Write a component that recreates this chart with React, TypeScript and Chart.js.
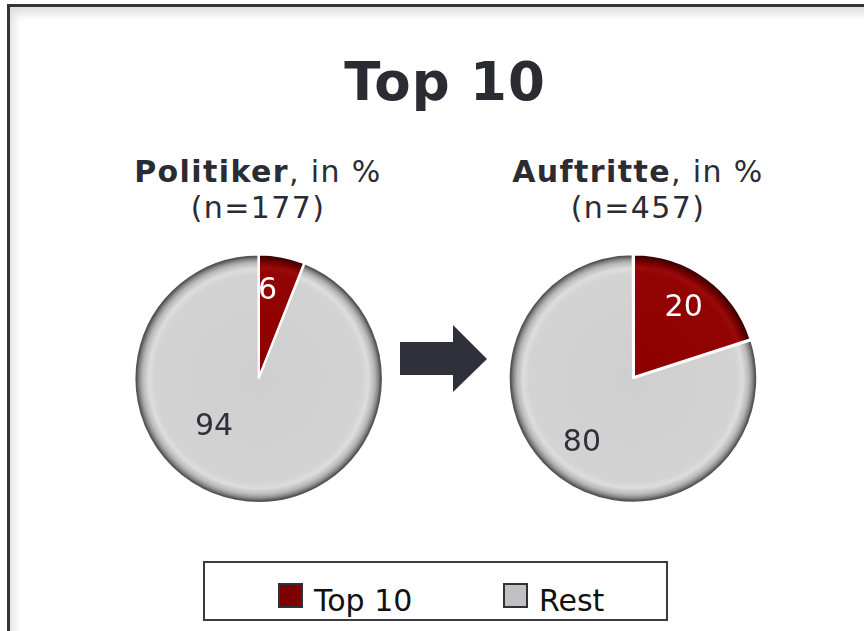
import React, { useEffect, useRef } from "react";
import { Chart, registerables } from "chart.js";
Chart.register(...registerables);

const categories = ["Top 10", "Rest"];
const politikerValues = [6, 94];
const auftritteValues = [20, 80];
const mainTitle = "Top 10";
const politikerHeading = ["Politiker", ", in %", "(n=177)"];
const auftritteHeading = ["Auftritte", ", in %", "(n=457)"];

const FONT = "'DejaVu Sans', Verdana, sans-serif";
const TEXT = "#2b2b33";

const redStops: [number, string][] = [
  [0, "#8e0000"], [0.85, "#920404"], [0.9, "#9a0a0a"], [0.95, "#700000"], [0.98, "#4a0000"], [1, "#300000"],
];
const greyStops: [number, string][] = [
  [0, "#cfcfcf"], [0.85, "#d3d3d3"], [0.9, "#dddddd"], [0.95, "#b8b8b8"], [0.98, "#888888"], [1, "#555555"],
];

function fill(c: any) {
  const stops = c.dataIndex === 0 ? redStops : greyStops;
  const chart = c.chart;
  const a = chart.chartArea;
  if (!a) return stops[0][1];
  const cx = (a.left + a.right) / 2;
  const cy = (a.top + a.bottom) / 2;
  const R = Math.min(a.right - a.left, a.bottom - a.top) / 2 - 5;
  const g = chart.ctx.createRadialGradient(cx, cy, 0, cx, cy, R);
  stops.forEach(([o, col]) => g.addColorStop(o, col));
  return g;
}

const labelPlugin = {
  id: "sliceLabels",
  afterDatasetsDraw(chart: any, _args: any, opts: any) {
    const meta = chart.getDatasetMeta(0);
    const ctx = chart.ctx;
    const ds = chart.data.datasets[0];
    meta.data.forEach((arc: any, i: number) => {
      const p = arc.getProps(["x", "y", "startAngle", "endAngle", "outerRadius"], true);
      const place = (opts.placement && opts.placement[i]) || { shift: 0, r: 0.7 };
      const mid = (p.startAngle + p.endAngle) / 2 + (place.shift * Math.PI) / 180;
      const r = p.outerRadius * place.r;
      const x = p.x + Math.cos(mid) * r;
      const y = p.y + Math.sin(mid) * r;
      ctx.save();
      ctx.font = `30px ${FONT}`;
      ctx.fillStyle = opts.colors[i];
      ctx.textAlign = "center";
      ctx.textBaseline = "middle";
      ctx.fillText(String(ds.data[i]), x, y);
      ctx.restore();
    });
  },
};

function Pie(props: { values: number[]; left: number; top: number; size: number; placement: any[] }) {
  const ref = useRef<HTMLCanvasElement>(null);
  useEffect(() => {
    const chart = new Chart(ref.current as HTMLCanvasElement, {
      type: "pie",
      data: {
        labels: categories,
        datasets: [
          {
            data: props.values,
            backgroundColor: fill as any,
            borderColor: "#ffffff",
            borderWidth: 2,
            offset: [0, 7],
          },
        ],
      },
      options: {
        animation: false,
        responsive: false,
        events: [],
        layout: { padding: 0 },
        plugins: {
          legend: { display: false },
          tooltip: { enabled: false },
          sliceLabels: { colors: ["#ffffff", "#30303a"], placement: props.placement },
        } as any,
      },
      plugins: [labelPlugin],
    });
    return () => chart.destroy();
  }, []);
  return (
    <canvas
      ref={ref}
      width={props.size}
      height={props.size}
      style={{ position: "absolute", left: props.left, top: props.top, width: props.size, height: props.size }}
    />
  );
}

function Heading(props: { parts: string[]; cx: number }) {
  return (
    <div
      style={{
        position: "absolute",
        left: props.cx - 200,
        top: 154,
        width: 400,
        textAlign: "center",
        fontFamily: FONT,
        fontSize: 30,
        lineHeight: "36px",
        letterSpacing: "1.4px",
        color: TEXT,
      }}
    >
      <div>
        <b>{props.parts[0]}</b>
        {props.parts[1]}
      </div>
      <div>{props.parts[2]}</div>
    </div>
  );
}

export default function App() {
  return (
    <div style={{ position: "absolute", left: 0, top: 0, width: 864, height: 631, overflow: "hidden", background: "#fff" }}>
      <div
        style={{
          position: "absolute",
          left: 7,
          top: 4,
          width: 900,
          height: 700,
          border: "3px solid #34343c",
          boxShadow: "inset 4px 7px 10px rgba(0,0,0,0.13)",
          background: "#fff",
        }}
      />
      <div
        style={{
          position: "absolute",
          left: 245,
          top: 55,
          width: 400,
          textAlign: "center",
          fontFamily: FONT,
          fontWeight: "bold",
          fontSize: 53,
          lineHeight: "53px",
          letterSpacing: "1px",
          color: TEXT,
        }}
      >
        {mainTitle}
      </div>
      <Heading parts={politikerHeading} cx={258} />
      <Heading parts={auftritteHeading} cx={638} />
      <Pie values={politikerValues} left={132} top={250} size={254} placement={[{ shift: -5, r: 0.7 }, { shift: 31, r: 0.55 }]} />
      <Pie values={auftritteValues} left={507} top={250} size={254} placement={[{ shift: 0, r: 0.69 }, { shift: 2, r: 0.69 }]} />
      <svg style={{ position: "absolute", left: 400, top: 325 }} width={88} height={68}>
        <polygon points="0,17 53,17 53,0 87,34 53,67 53,50 0,50" fill="#30303a" />
      </svg>
      <div
        style={{
          position: "absolute",
          left: 203,
          top: 561,
          width: 461,
          height: 56,
          border: "2px solid #3a3a44",
          background: "#fff",
          fontFamily: FONT,
          fontSize: 30,
          lineHeight: "30px",
          color: "#111",
        }}
      >
        <div style={{ position: "absolute", left: 73, top: 20, width: 21, height: 21, border: "2px solid #30303a", background: "#7f0000" }} />
        <div style={{ position: "absolute", left: 109, top: 23, whiteSpace: "nowrap" }}>{categories[0]}</div>
        <div style={{ position: "absolute", left: 298, top: 20, width: 21, height: 21, border: "2px solid #30303a", background: "#c0c0c0" }} />
        <div style={{ position: "absolute", left: 334, top: 23, whiteSpace: "nowrap" }}>{categories[1]}</div>
      </div>
    </div>
  );
}
